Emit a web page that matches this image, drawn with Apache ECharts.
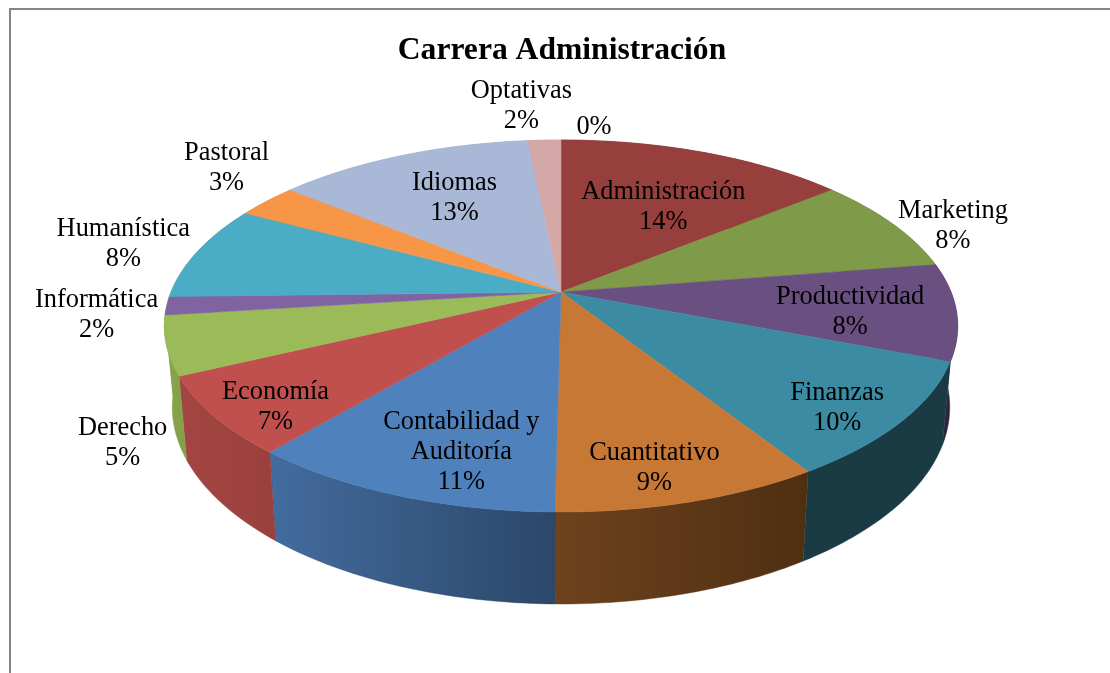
<!DOCTYPE html>
<html><head><meta charset="utf-8">
<style>html,body{margin:0;padding:0;background:#fff}#c{width:1110px;height:673px}</style>
<script src="https://cdn.jsdelivr.net/npm/echarts@6/dist/echarts.min.js"></script>
</head><body><div id="c"></div>
<script>
const titleText = 'Carrera Administración';
const categories = ['Administración','Marketing','Productividad','Finanzas','Cuantitativo','Contabilidad y\nAuditoría','Economía','Derecho','Informática','Humanística','Pastoral','Idiomas','Optativas',''];
const shares = [14.1,8.4,8.4,10.1,9.2,10.9,6.8,5.1,1.6,8.3,3.0,12.5,1.6,0.0];

const topColors = ['#963F3C','#7F9A48','#6A5080','#3B8BA3','#C87835','#4F81BD','#C0504D','#9BBB59','#8064A2','#4BACC6','#F79646','#A9B8D6','#D5A8A8','#E0C0C0'];
const wallColors = [['#6a2c2a','#6a2c2a'],['#5a6d33','#5a6d33'],['#33264a','#2c2138'],['#1A3A44','#1A3A44'],['#6E421D','#4E2F12'],['#436C9F','#2C4769'],['#A34643','#9A403C'],['#87A44C','#84A049'],['#87A44C','#87A44C'],['#87A44C','#87A44C'],['#c97a39','#c97a39'],['#8f9cb6','#8f9cb6'],['#b58f8f','#b58f8f'],['#b58f8f','#b58f8f']];
// label placement: radial factor, then nudge
const labelPlace = [[.6,11,4],[1.15,15,12],[.75,-6,5.5],[.85,-8,8],[.85,-13,3],[.8,26,4],[.85,4,11.5],[1.15,19,89],[1.15,-10,7],[1.15,-22,-2],[1.15,-1,-21],[.75,17,12.5],[1.15,-21,-15],[1.15,33,6]];

// perspective disc projection
const CX=561, CY=292, A=390, B=179.8, K=0.1828, SX=0.98, LY0=371, LY1=1.059;
function proj(deg,r){
  const t=deg*Math.PI/180, x=r*Math.sin(t), y=-r*Math.cos(t), w=1-K*y;
  return [CX+A*x/w, CY+B*y/w];
}
function lower(p){ return [CX+SX*(p[0]-CX), LY0+LY1*(p[1]-CY)]; }
function arc(a0,a1){
  const n=Math.max(2,Math.ceil((a1-a0)/1)), pts=[];
  for(let j=0;j<=n;j++) pts.push(proj(a0+(a1-a0)*j/n,1));
  return pts;
}
let run=0;
const spans=shares.map(v=>{const s=run; run+=v; return [s,run,v];});
const total=run;
const ang=v=>v/total*360;

const wallSeries={type:'custom',coordinateSystem:'none',silent:true,animation:false,z:1,data:spans,
  renderItem(p,api){
    const a0=ang(api.value(0)),a1=ang(api.value(1));
    if(a1<=a0) return null;
    const top=arc(a0,a1), bot=top.map(lower).reverse();
    const c=wallColors[p.dataIndex];
    return {type:'polygon',shape:{points:top.concat(bot)},
      style:{fill:new echarts.graphic.LinearGradient(0,0,1,0,[{offset:0,color:c[0]},{offset:1,color:c[1]}]),stroke:c[1],lineWidth:.4}};
  }};
const topSeries={type:'custom',coordinateSystem:'none',silent:true,animation:false,z:2,data:spans,
  renderItem(p,api){
    const a0=ang(api.value(0)),a1=ang(api.value(1));
    if(a1<=a0) return null;
    const c=topColors[p.dataIndex];
    return {type:'polygon',shape:{points:[[CX,CY]].concat(arc(a0,a1))},style:{fill:c,stroke:c,lineWidth:.5}};
  }};
const labelSeries={type:'custom',coordinateSystem:'none',silent:true,animation:false,z:3,data:spans,
  renderItem(p,api){
    const i=p.dataIndex, a0=ang(api.value(0)),a1=ang(api.value(1)), pl=labelPlace[i];
    const c=proj((a0+a1)/2,pl[0]);
    const pct=Math.round(api.value(2))+'%';
    return {type:'text',style:{text:categories[i]?categories[i]+'\n'+pct:pct,x:c[0]+pl[1],y:c[1]+pl[2],
      align:'center',verticalAlign:'middle',fill:'#000',font:'26.4px "Liberation Serif"',lineHeight:30}};
  }};

const chart=echarts.init(document.getElementById('c'),null,{renderer:'canvas'});
chart.setOption({
  backgroundColor:'#fff',animation:false,
  title:{text:titleText,left:557,top:30,textAlign:'center',textStyle:{fontFamily:'Liberation Serif',fontWeight:'bold',fontSize:31.6,color:'#000'}},
  graphic:[{type:'polyline',silent:true,shape:{points:[[10,673],[10,9],[1110,9]]},style:{stroke:'#858585',lineWidth:2,fill:null}}],
  series:[wallSeries,topSeries,labelSeries]
});
</script></body></html>
